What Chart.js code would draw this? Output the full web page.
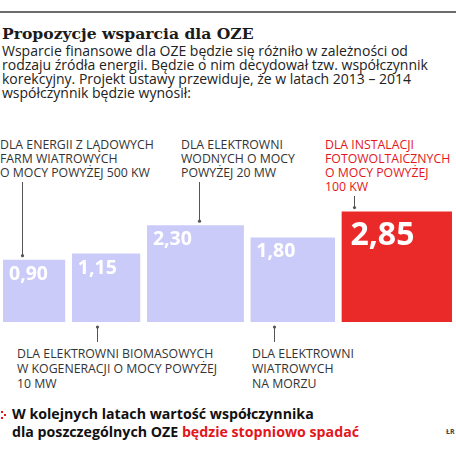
<!DOCTYPE html>
<html lang="pl">
<head>
<meta charset="utf-8">
<title>Propozycje wsparcia dla OZE</title>
<script src="https://cdn.jsdelivr.net/npm/chart.js@4/dist/chart.umd.min.js"></script>
<style>
  html, body { margin: 0; padding: 0; background: #fff; }
  #wrap { position: relative; width: 456px; height: 457px; overflow: hidden;
          font-family: "Open Sans", sans-serif; color: #222; }
  .rule { position: absolute; left: 0; top: 11px; width: 456px; height: 2px; background: #6b6b6b; }
  h1 { position: absolute; left: 2px; top: 25.8px; margin: 0; white-space: nowrap;
       font: bold 15.6px/1 "DejaVu Serif", serif; color: #1b1b1b; }
  .lead { position: absolute; left: 2px; top: 44.4px; font-size: 14px; line-height: 13.7px;
          white-space: nowrap; color: #222; }
  .cat { position: absolute; font-size: 12.3px; line-height: 14px; white-space: nowrap; color: #333; }
  .cat.low { line-height: 15px; }
  .cat.hot { color: #e3161c; }
  #chartBox { position: absolute; left: 0; top: 175px; width: 456px; height: 175px; }
  .note { position: absolute; left: 12px; top: 405.3px; font-size: 14.2px; font-weight: bold;
          line-height: 17.4px; white-space: nowrap; color: #111; }
  .note .hot { color: #e3161c; }
  .dot { position: absolute; width: 2px; height: 2px; background: #e3161c; }
  .src { position: absolute; left: 446px; top: 427px; font-size: 7px; font-weight: bold; color: #444; }
</style>
</head>
<body>
<div id="wrap">
  <div class="rule"></div>
  <h1>Propozycje wsparcia dla OZE</h1>
  <div class="lead">Wsparcie finansowe dla OZE będzie się różniło w zależności od<br>rodzaju źródła energii. Będzie o nim decydował tzw. współczynnik<br>korekcyjny. Projekt ustawy przewiduje, że w latach 2013 – 2014<br>współczynnik będzie wynosił:</div>

  <div class="cat" style="left:0px; top:137.7px;">DLA ENERGII Z LĄDOWYCH<br>FARM WIATROWYCH<br>O MOCY POWYŻEJ 500 KW</div>
  <div class="cat" style="left:181px; top:137.7px;">DLA ELEKTROWNI<br>WODNYCH O MOCY<br>POWYŻEJ 20 MW</div>
  <div class="cat hot" style="left:325px; top:137.7px;">DLA INSTALACJI<br>FOTOWOLTAICZNYCH<br>O MOCY POWYŻEJ<br>100 KW</div>
  <div class="cat low" style="left:17px; top:346px;">DLA ELEKTROWNI BIOMASOWYCH<br>W KOGENERACJI O MOCY POWYŻEJ<br>10 MW</div>
  <div class="cat low" style="left:252px; top:346px;">DLA ELEKTROWNI<br>WIATROWYCH<br>NA MORZU</div>

  <div id="chartBox"><canvas id="wykres"></canvas></div>

  <div class="dot" style="left:1px; top:411px;"></div>
  <div class="dot" style="left:4px; top:414px;"></div>
  <div class="dot" style="left:1px; top:417px;"></div>
  <div class="note">W kolejnych latach wartość współczynnika<br>dla poszczególnych OZE <span class="hot">będzie stopniowo spadać</span></div>
  <div class="src">ŁR</div>
</div>

<script>
// =========================
// Dane
// =========================
const kategorie = [
    "Lądowe farmy wiatrowe > 500 kW",
    "Biomasa w kogeneracji > 10 MW",
    "Elektrownie wodne > 20 MW",
    "Elektrownie wiatrowe na morzu",
    "Fotowoltaika > 100 kW"
];
const wspolczynniki = [0.90, 1.15, 2.30, 1.80, 2.85];
const wyroznione = [false, false, false, false, true];

// =========================
// Ustawienia rysunku
// =========================
const Y_MIN = -1.63;   // dół słupka (kwadraty: szerokość = wysokość)
const Y_MAX = 3.2;
const PRZERWA = 0.26;  // odstęp między kwadratami w jednostkach osi
const KOLOR = "#cbcbfa";
const KOLOR_WYR = "#ea2a28";

// linie odnośników: [przesunięcie od lewej krawędzi w px, "gora"/"dol", koniec w px kanwy]
const odnosniki = [
    [19, "gora", 7],
    [25.5, "dol", 167],
    [52, "gora", 7],
    [24, "dol", 167],
    [13, "gora", 21]
];

// kwadraty jako linie z wypełnieniem do dołu skali
let x = 0;
const zbiory = wspolczynniki.map((v, i) => {
    const x0 = x;
    const x1 = x0 + (v - Y_MIN);
    x = x1 + PRZERWA;
    return {
        label: kategorie[i],
        data: [{ x: x0, y: v }, { x: x1, y: v }],
        borderWidth: 0,
        pointRadius: 0,
        fill: "start",
        backgroundColor: wyroznione[i] ? KOLOR_WYR : KOLOR
    };
});
const X_MAX = x - PRZERWA;

function formatuj(v) {
    return v.toFixed(2).replace(".", ",");
}

// =========================
// Etykiety wartości i odnośniki
// =========================
const etykiety = {
    id: "etykiety",
    afterDatasetsDraw(chart) {
        const ctx = chart.ctx;
        const sx = chart.scales.x, sy = chart.scales.y;
        ctx.save();
        zbiory.forEach((z, i) => {
            const lewa = sx.getPixelForValue(z.data[0].x);
            const gora = sy.getPixelForValue(z.data[0].y);
            const dol = sy.getPixelForValue(Y_MIN);
            const duzy = wyroznione[i];

            ctx.fillStyle = "#fff";
            ctx.textBaseline = "alphabetic";
            ctx.font = (duzy ? "bold 32px" : "bold 19.5px") + ' "Open Sans", sans-serif';
            ctx.fillText(formatuj(wspolczynniki[i]), lewa + (duzy ? 9 : 6), gora + (duzy ? 33.5 : 20));

            const [dx, strona, koniec] = odnosniki[i];
            const lx = Math.round(lewa + dx) + 0.5;
            const y1 = strona === "gora" ? gora - 4 : dol + 5;
            ctx.strokeStyle = "#555";
            ctx.lineWidth = 1;
            ctx.beginPath();
            ctx.moveTo(lx, koniec);
            ctx.lineTo(lx, y1);
            ctx.stroke();
            ctx.fillStyle = "#555";
            ctx.beginPath();
            ctx.arc(lx, y1, 1.6, 0, Math.PI * 2);
            ctx.fill();
        });
        ctx.restore();
    }
};

new Chart(document.getElementById("wykres"), {
    type: "line",
    data: { datasets: zbiory },
    options: {
        responsive: true,
        maintainAspectRatio: false,
        animation: false,
        layout: { padding: { left: 3, right: 4, top: 28, bottom: 28 } },
        scales: {
            x: { type: "linear", min: 0, max: X_MAX, display: false },
            y: { min: Y_MIN, max: Y_MAX, display: false }
        },
        plugins: {
            legend: { display: false },
            tooltip: { enabled: false }
        }
    },
    plugins: [etykiety]
});
</script>
</body>
</html>
